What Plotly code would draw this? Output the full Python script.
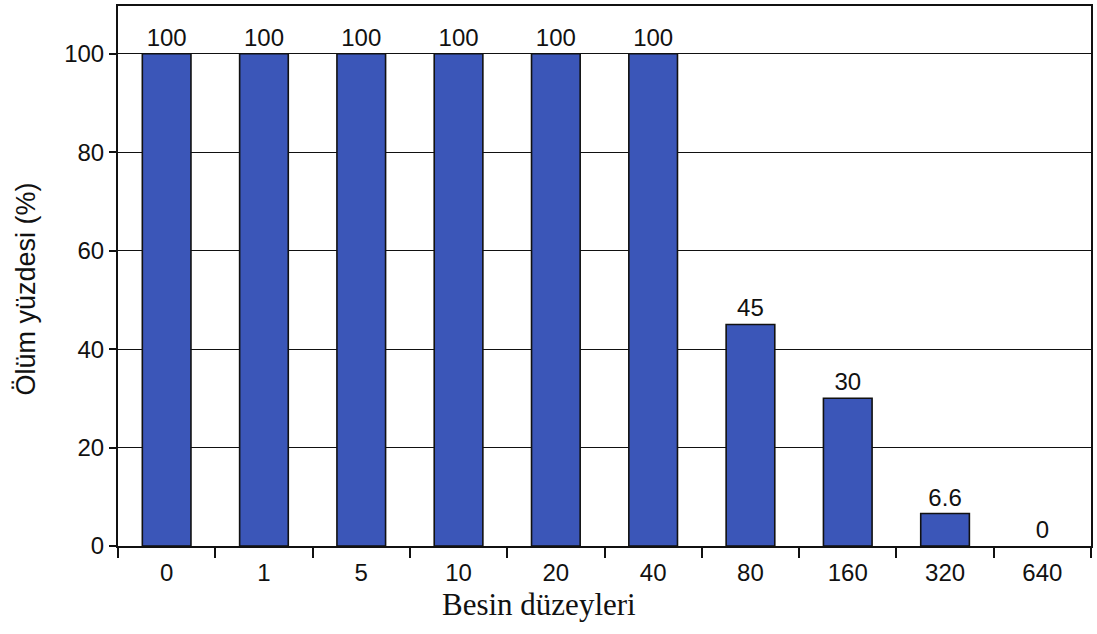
import plotly.graph_objects as go

# Food levels (categories) and mortality percentages
levels = ["0", "1", "5", "10", "20", "40", "80", "160", "320", "640"]
mortality = [100, 100, 100, 100, 100, 100, 45, 30, 6.6, 0]
value_labels = ["100", "100", "100", "100", "100", "100", "45", "30", "6.6", "0"]
y_ticks = [0, 20, 40, 60, 80, 100]

sans = "Liberation Sans, Arial, sans-serif"
serif = "Liberation Serif, Times New Roman, serif"

# no outline on an empty bar
outline_widths = [1.6 if v > 0 else 0 for v in mortality]

fig = go.Figure(
    go.Bar(
        x=levels,
        y=mortality,
        text=value_labels,
        textposition="outside",
        textfont=dict(family=sans, size=24, color="#111"),
        cliponaxis=False,
        marker=dict(color="#3B56B8", line=dict(color="#111", width=outline_widths)),
        width=0.5,
    )
)

fig.update_layout(
    width=1097,
    height=634,
    margin=dict(l=118, r=4, t=4, b=88),
    paper_bgcolor="white",
    plot_bgcolor="white",
    showlegend=False,
    font=dict(family=sans, size=24, color="#111"),
    xaxis=dict(
        type="category",
        showline=True,
        linecolor="#111",
        linewidth=2,
        mirror=True,
        ticks="outside",
        tickson="boundaries",
        ticklen=10,
        tickwidth=1.5,
        tickcolor="#111",
        showgrid=False,
        ticklabelstandoff=4,
        tickfont=dict(family=sans, size=24, color="#111"),
    ),
    yaxis=dict(
        range=[0, 109.7],
        tickvals=y_ticks,
        showline=True,
        linecolor="#111",
        linewidth=2,
        mirror=True,
        ticks="outside",
        ticklen=7,
        tickwidth=1.5,
        tickcolor="#111",
        showgrid=True,
        gridcolor="#111",
        gridwidth=1.3,
        zeroline=False,
        tickfont=dict(family=sans, size=24, color="#111"),
    ),
    annotations=[
        dict(
            text="Ölüm yüzdesi (%)",
            xref="paper", yref="paper",
            x=-0.095, y=0.476,
            xanchor="center", yanchor="middle",
            textangle=-90,
            showarrow=False,
            font=dict(family=sans, size=27, color="#111"),
        ),
        dict(
            text="Besin düzeyleri",
            xref="paper", yref="paper",
            x=0.433, y=-0.109,
            xanchor="center", yanchor="middle",
            showarrow=False,
            font=dict(family=serif, size=31, color="#111"),
        ),
    ],
)

fig.write_html("out.html")
